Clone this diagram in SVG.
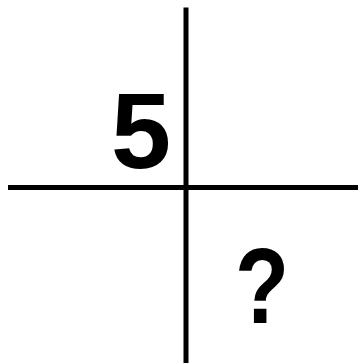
<svg xmlns="http://www.w3.org/2000/svg" width="358" height="363" viewBox="0 0 358 363">
<style>
.ln{stroke:#000;stroke-width:5;fill:none}
.t{font-family:"Liberation Sans",Arial,sans-serif;font-weight:bold;fill:#000}
</style>
<rect width="358" height="363" fill="#fff"/>
<g id="connectors">
<line class="ln" x1="186" y1="7.5" x2="186" y2="363"/>
<line class="ln" x1="8" y1="187.5" x2="358" y2="187.5"/>
</g>
<g id="n5"><text class="t" x="141" y="168" font-size="108" text-anchor="middle">5</text></g>
<g id="nq"><text class="t" transform="translate(262,323) scale(0.82,1)" x="0" y="0" font-size="108" text-anchor="middle">?</text></g>
</svg>
